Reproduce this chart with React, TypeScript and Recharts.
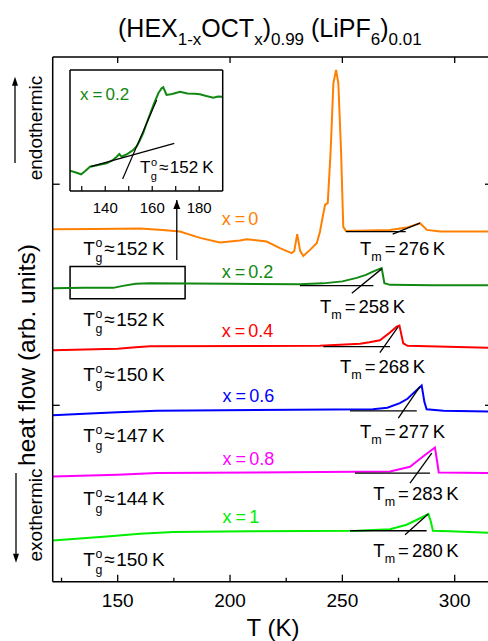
import React from 'react';
import {
  ComposedChart,
  Line,
  Scatter,
  XAxis,
  YAxis,
  ReferenceArea,
  Customized,
} from 'recharts';

const FONT = 'Arial, "Liberation Sans", Helvetica, sans-serif';

// heat flow traces, [T (K), heat flow (arb. units, offset per curve)]
const curveX00: [number, number][] = [
  [121.1, 352.7], [140, 353], [160, 353.3], [170, 352], [177.7, 350.3], [186.6, 344],
  [195.5, 339.3], [204.4, 341.3], [207.4, 342.7], [216.3, 340.3], [222.2, 333.7],
  [227.4, 328.7], [228.6, 331], [229.9, 347.7], [231.2, 331], [232.6, 326], [235.6, 332],
  [238.6, 338.7], [240, 350], [241.5, 368], [242.3, 377], [243.5, 379], [244.8, 432],
  [246, 498.7], [247.2, 512], [248.2, 499], [249.4, 432], [250.4, 355], [251.6, 351],
  [271.2, 352], [278.6, 354.3], [284.6, 358.7], [287.6, 352], [293.5, 350.3], [316.6, 350.3],
];
const curveX02: [number, number][] = [
  [121.1, 293.7], [135, 294], [148, 294], [152.3, 296], [158, 298], [164.4, 298.5],
  [200, 298], [231.1, 297.7], [241.3, 298.5], [250, 300.5], [256.4, 304], [260.5, 307],
  [263.6, 310.3], [266, 312.5], [267.5, 313.7], [268.7, 298.7], [271.2, 297], [290, 296.7],
  [316.6, 296.5],
];
const curveX04: [number, number][] = [
  [121.1, 231.5], [140, 232.5], [150, 233], [158, 234.5], [164.4, 235.5], [240, 236],
  [257.9, 238], [262, 239.5], [266.7, 241.5], [271.2, 249.3], [274.2, 255.3], [275.4, 256.3],
  [277.1, 238.5], [279, 236], [316.6, 234],
];
const curveX06: [number, number][] = [
  [121.1, 166.5], [140, 168.5], [150, 169.5], [167.4, 171], [263.6, 172.5], [270, 174],
  [275.6, 178.7], [279, 183], [281.6, 188.7], [283.5, 192.5], [285.3, 196.3], [286.5, 180],
  [287.5, 172.5], [295, 171], [316.6, 170.3],
];
const curveX08: [number, number][] = [
  [121.1, 105.3], [150, 107], [167.4, 108.7], [271.2, 110.3], [280.1, 115], [285.9, 125.3],
  [289, 130.5], [291.2, 134.3], [292.2, 120], [292.9, 109.3], [316.6, 108.7],
];
const curveX10: [number, number][] = [
  [121.1, 41.3], [145.1, 45.3], [159.9, 48], [174.7, 49.7], [208.9, 50.5], [256.4, 51],
  [271.2, 52.5], [278.6, 57], [284.6, 63.5], [288.3, 67.7], [289.4, 60], [290.3, 51],
  [297.9, 50.5], [316.6, 48.7],
];

// onset construction lines for T_m
const tangentLines: [number, number][][] = [
  [[251.6, 350.3], [278.2, 350.3]], [[272.4, 347.7], [284.5, 358.7]],
  [[231.1, 296.3], [263.8, 296.3]], [[254.2, 288.7], [267.5, 313]],
  [[241.5, 235.3], [271.2, 235.3]], [[266.7, 229.3], [274.8, 255]],
  [[253.4, 171], [283.1, 171]], [[274.9, 163.7], [284.5, 195.3]],
  [[255.6, 108.7], [289, 108.7]], [[280.1, 98.7], [289.8, 128.7]],
  [[253.4, 51], [287.5, 51]], [[277.9, 47], [288.2, 67.7]],
];

// zoomed inset, x = 0.2 around the glass transition
const insetCurve: [number, number][] = [
  [125, 20.3], [127.5, 18.5], [129.7, 16.7], [131.5, 20], [133.5, 24.3], [137, 26],
  [140.6, 27.7], [143, 30.5], [144.9, 34.3], [146, 37], [147, 34.3], [148.5, 36],
  [149.8, 37.7], [151.9, 41], [153.5, 45], [154.8, 51], [156.2, 58], [157.6, 67.7],
  [159, 76.5], [160.5, 86], [162.6, 97.7], [164, 102.7], [164.7, 103.7], [166.1, 96],
  [168.5, 97], [171.8, 99.3], [175, 97.5], [178, 97.3], [180.3, 96.7], [183, 95],
  [186, 93.3], [188, 94.5], [190, 94.3],
];
const insetTangents: [number, number][][] = [
  [[133.8, 24.3], [169.4, 47.7]],
  [[147.4, 12], [161.9, 91]],
];

const selectionBox = { T1: 128.8, T2: 180, v1: 283, v2: 315.3 };
const zoomArrow: [number, number][] = [[176.3, 322], [176.3, 382]];

const tempTicks = [125, 150, 175, 200, 225, 250, 275, 300];
const tempMajor = [150, 200, 250, 300];
const flowTicks = [176.5, 397.7];
const insetTicks = [130, 140, 150, 160, 170, 180];
const insetLabelled = [140, 160, 180];

const curveNames = ['0', '0.2', '0.4', '0.6', '0.8', '1'];
const curveColors = ['#ff8000', '#118811', '#ff0000', '#0000ff', '#ff00ff', '#00ee00'];
const curves = [curveX00, curveX02, curveX04, curveX06, curveX08, curveX10];

const tgValues = ['152', '152', '150', '147', '144', '150'];
const tgPos: [number, number][] = [
  [134.7, 327], [134.7, 256], [134.7, 201.3], [134.7, 139.3], [134.7, 76.3], [134.7, 15.3],
];
const tmValues = ['276', '258', '268', '277', '283', '280'];
const tmPos: [number, number][] = [
  [257.8, 327], [240, 268.7], [248.9, 208.7], [257.8, 144], [263.8, 81.3], [263.8, 25],
];
const namePos: [number, number][] = [
  [196.3, 357], [196.3, 303.7], [196.3, 245.3], [196.7, 179.7], [196.7, 117], [196.7, 58.7],
];

const toRows = (pts: [number, number][]) => pts.map(([T, v]) => ({ T, v }));

const tgRows = tgPos.map(([T, v], i) => ({ T, v, text: tgValues[i] }));
const tmRows = tmPos.map(([T, v], i) => ({ T, v, text: tmValues[i] }));
const nameRows = namePos.map(([T, v], i) => ({ T, v, text: curveNames[i], color: curveColors[i] }));

const TgText = ({ cx, cy, payload, fs = 19 }: any) => {
  const s = fs * 0.65;
  return (
    <text x={cx} y={cy} fontSize={fs} fontFamily={FONT} fill="#000">
      T<tspan dx={0.5} dy={-fs * 0.42} fontSize={s}>o</tspan>
      <tspan dx={-s * 0.56} dy={fs * 0.8} fontSize={s}>g</tspan>
      <tspan dx={2} dy={-fs * 0.38}>≈</tspan>
      <tspan dx={1.5}>{payload.text}</tspan>
      <tspan dx={4}>K</tspan>
    </text>
  );
};

const TmText = ({ cx, cy, payload }: any) => (
  <text x={cx} y={cy} fontSize={18.5} fontFamily={FONT} fill="#000">
    T<tspan dy={6} fontSize={12.5}>m</tspan>
    <tspan dx={3} dy={-6}>=</tspan>
    <tspan dx={3}>{payload.text}</tspan>
    <tspan dx={3.5}>K</tspan>
  </text>
);

const NameText = ({ cx, cy, payload, fs = 18 }: any) => (
  <text x={cx} y={cy} fontSize={fs} fontFamily={FONT} fill={payload.color}>
    x<tspan dx={4}>=</tspan>
    <tspan dx={3}>{payload.text}</tspan>
  </text>
);

const BottomTick = ({ x, y, payload }: any) => {
  const major = payload.value % 50 === 0;
  return (
    <g>
      <line x1={x} x2={x} y1={y} y2={y - (major ? 7 : 4)} stroke="#000" strokeWidth={1.3} />
      {major && (
        <text x={x} y={y + 25} textAnchor="middle" fontSize={19} fontFamily={FONT} fill="#000">
          {payload.value}
        </text>
      )}
    </g>
  );
};

const TopTick = ({ x, y }: any) => (
  <line x1={x} x2={x} y1={y} y2={y + 6} stroke="#000" strokeWidth={1.3} />
);

const LeftTick = ({ x, y }: any) => (
  <line x1={x} x2={x + 7} y1={y} y2={y} stroke="#000" strokeWidth={1.3} />
);

const RightTick = ({ x, y }: any) => (
  <line x1={x} x2={x - 7} y1={y} y2={y} stroke="#000" strokeWidth={1.3} />
);

const InsetTick = ({ x, y, payload }: any) => (
  <g>
    <line x1={x} x2={x} y1={y} y2={y - 5} stroke="#000" strokeWidth={1.2} />
    {insetLabelled.includes(payload.value) && (
      <text x={x} y={y + 22} textAnchor="middle" fontSize={15} fontFamily={FONT} fill="#000">
        {payload.value}
      </text>
    )}
  </g>
);

const ArrowHead = (p: any) =>
  p.index === 1 ? (
    <path key="head" d={`M${p.cx},${p.cy} l-3.5,9 l7,0 z`} fill="#000" />
  ) : (
    <g key="tail" />
  );

const Decor = () => (
  <g fontFamily={FONT} fill="#000">
    <text x={118} y={37} fontSize={25}>
      (HEX<tspan dy={8} fontSize={17}>1-x</tspan>
      <tspan dy={-8}>OCT</tspan>
      <tspan dy={8} fontSize={17}>x</tspan>
      <tspan dy={-8}>)</tspan>
      <tspan dy={8} fontSize={17}>0.99</tspan>
      <tspan dy={-8}> (LiPF</tspan>
      <tspan dy={8} fontSize={17}>6</tspan>
      <tspan dy={-8}>)</tspan>
      <tspan dy={8} fontSize={17}>0.01</tspan>
    </text>
    <text transform="translate(35,355) rotate(-90)" textAnchor="middle" fontSize={24.5}>
      heat flow (arb. units)
    </text>
    <text transform="translate(42,128) rotate(-90)" textAnchor="middle" fontSize={19}>
      endothermic
    </text>
    <text transform="translate(42,515) rotate(-90)" textAnchor="middle" fontSize={19}>
      exothermic
    </text>
    <line x1={15} x2={15} y1={163} y2={84} stroke="#000" strokeWidth={1.3} />
    <path d="M15,76.7 l-3,9 l6,0 z" fill="#000" />
    <line x1={16} x2={16} y1={473} y2={555} stroke="#000" strokeWidth={1.3} />
    <path d="M16,562.7 l-3,-9 l6,0 z" fill="#000" />
    <text x={273} y={636} textAnchor="middle" fontSize={24}>T (K)</text>
  </g>
);

const axisLine = { stroke: '#000', strokeWidth: 1.5 };

export default function App() {
  return (
    <div
      style={{
        position: 'absolute',
        left: 0,
        top: 0,
        width: 488,
        height: 641,
        overflow: 'hidden',
        background: '#fff',
      }}
    >
      <ComposedChart width={520} height={641} margin={{ top: 37, right: 8, bottom: 39.3, left: 32.7 }}>
        <XAxis
          dataKey="T"
          type="number"
          domain={[121.07, 316.6]}
          ticks={tempTicks}
          interval={0}
          allowDataOverflow
          height={20}
          tickSize={0}
          tickMargin={0}
          tickLine={false}
          axisLine={axisLine}
          tick={(p: any) => <BottomTick {...p} />}
        />
        <XAxis
          xAxisId="top"
          orientation="top"
          dataKey="T"
          type="number"
          domain={[121.07, 316.6]}
          ticks={tempMajor}
          interval={0}
          allowDataOverflow
          height={20}
          tickSize={0}
          tickMargin={0}
          tickLine={false}
          axisLine={axisLine}
          tick={(p: any) => <TopTick {...p} />}
        />
        <YAxis
          type="number"
          domain={[0, 525]}
          ticks={flowTicks}
          interval={0}
          allowDataOverflow
          width={20}
          tickSize={0}
          tickMargin={0}
          tickLine={false}
          axisLine={axisLine}
          tick={(p: any) => <LeftTick {...p} />}
        />
        <YAxis
          yAxisId="r"
          orientation="right"
          type="number"
          domain={[0, 525]}
          ticks={flowTicks}
          interval={0}
          allowDataOverflow
          width={20}
          tickSize={0}
          tickMargin={0}
          tickLine={false}
          axisLine={axisLine}
          tick={(p: any) => <RightTick {...p} />}
        />
        <ReferenceArea
          x1={selectionBox.T1}
          x2={selectionBox.T2}
          y1={selectionBox.v1}
          y2={selectionBox.v2}
          fill="none"
          fillOpacity={0}
          stroke="#000"
          strokeWidth={1.5}
          ifOverflow="visible"
        />
        {curves.map((pts, i) => (
          <Line
            key={`c${i}`}
            data={toRows(pts)}
            dataKey="v"
            type="linear"
            stroke={curveColors[i]}
            strokeWidth={2}
            dot={false}
            isAnimationActive={false}
          />
        ))}
        {tangentLines.map((pts, i) => (
          <Line
            key={`t${i}`}
            data={toRows(pts)}
            dataKey="v"
            type="linear"
            stroke="#000"
            strokeWidth={1.3}
            dot={false}
            isAnimationActive={false}
          />
        ))}
        <Line
          data={toRows(zoomArrow)}
          dataKey="v"
          stroke="#000"
          strokeWidth={1.3}
          dot={ArrowHead}
          isAnimationActive={false}
        />
        <Scatter data={tgRows} dataKey="v" shape={(p: any) => <TgText {...p} />} isAnimationActive={false} />
        <Scatter data={tmRows} dataKey="v" shape={(p: any) => <TmText {...p} />} isAnimationActive={false} />
        <Scatter data={nameRows} dataKey="v" shape={(p: any) => <NameText {...p} />} isAnimationActive={false} />
        <Customized component={Decor} />
      </ComposedChart>

      <div style={{ position: 'absolute', left: 0, top: 0 }}>
        <ComposedChart width={260} height={230} margin={{ top: 50, right: 17.3, bottom: 19, left: 50 }}>
          <XAxis
            dataKey="T"
            type="number"
            domain={[125, 190]}
            ticks={insetTicks}
            interval={0}
            allowDataOverflow
            height={20}
            tickSize={0}
            tickMargin={0}
            tickLine={false}
            axisLine={axisLine}
            tick={(p: any) => <InsetTick {...p} />}
          />
          <XAxis
            xAxisId="top"
            orientation="top"
            dataKey="T"
            type="number"
            domain={[125, 190]}
            height={20}
            tick={false}
            tickLine={false}
            axisLine={axisLine}
          />
          <YAxis type="number" domain={[0, 121]} width={20} tick={false} tickLine={false} axisLine={axisLine} allowDataOverflow />
          <YAxis
            yAxisId="r"
            orientation="right"
            type="number"
            domain={[0, 121]}
            width={20}
            tick={false}
            tickLine={false}
            axisLine={axisLine}
          />
          <Line
            data={toRows(insetCurve)}
            dataKey="v"
            stroke={curveColors[1]}
            strokeWidth={2}
            dot={false}
            isAnimationActive={false}
          />
          {insetTangents.map((pts, i) => (
            <Line
              key={`it${i}`}
              data={toRows(pts)}
              dataKey="v"
              stroke="#000"
              strokeWidth={1.2}
              dot={false}
              isAnimationActive={false}
            />
          ))}
          <Scatter
            data={[{ T: 129.3, v: 91, text: '0.2', color: curveColors[1] }]}
            dataKey="v"
            shape={(p: any) => <NameText {...p} fs={17} />}
            isAnimationActive={false}
          />
          <Scatter
            data={[{ T: 154.8, v: 17.7, text: '152' }]}
            dataKey="v"
            shape={(p: any) => <TgText {...p} fs={17} />}
            isAnimationActive={false}
          />
        </ComposedChart>
      </div>
    </div>
  );
}
